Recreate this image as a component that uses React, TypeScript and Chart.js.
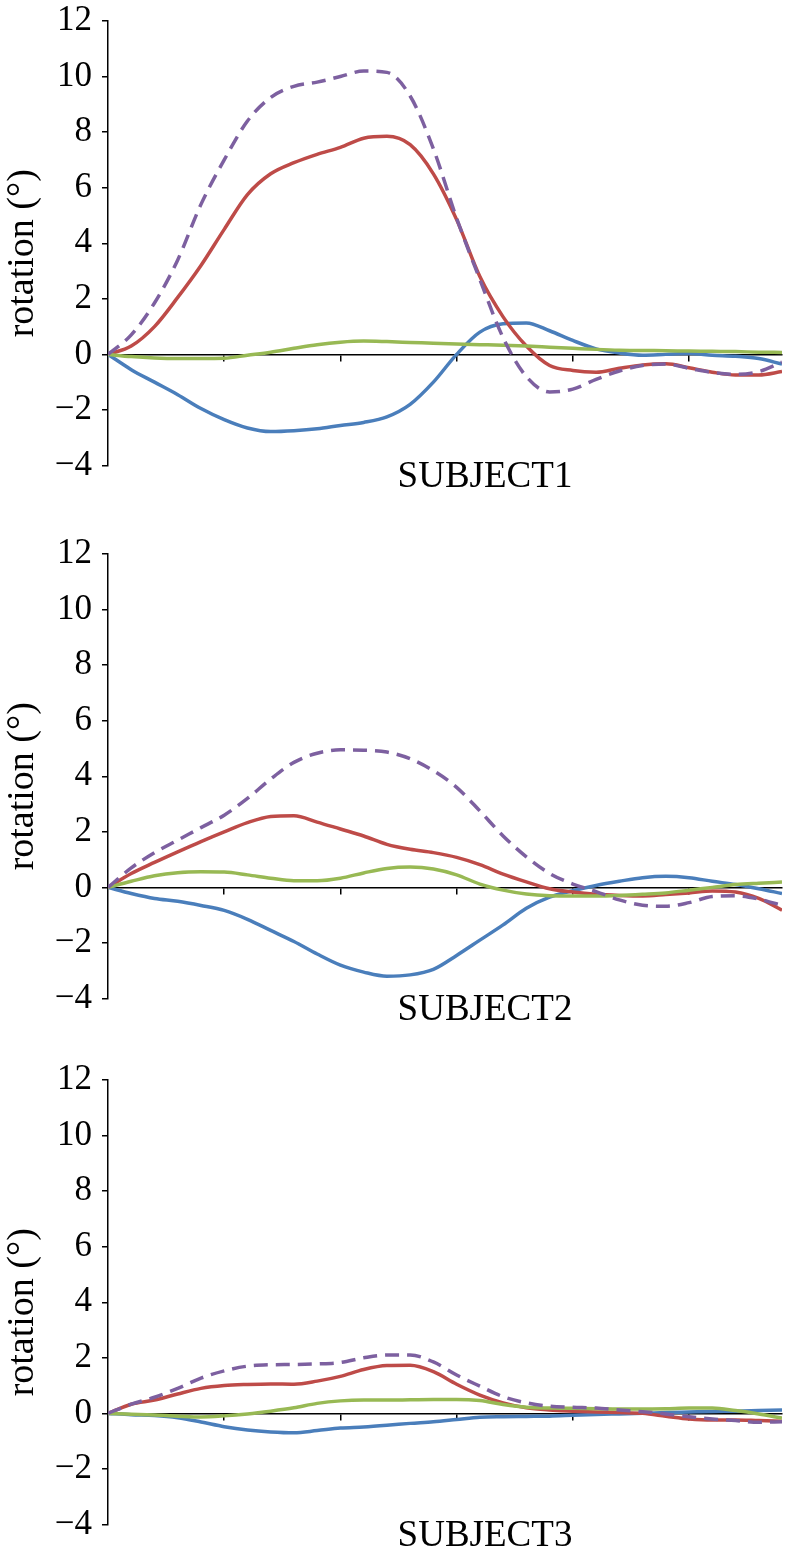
import React, { useEffect, useRef } from "react";
import { Chart, registerables } from "chart.js";

Chart.register(...registerables);

const FONT = "'Liberation Serif', 'Times New Roman', 'DejaVu Serif', serif";

// x positions (time, one unit per x-axis tick)
const xValues = [0, 0.2, 0.4, 0.6, 0.8, 1.0, 1.2, 1.4, 1.6, 1.8, 2.0, 2.2, 2.4, 2.6, 2.8, 3.0, 3.2, 3.4, 3.6, 3.8, 4.0, 4.2, 4.4, 4.6, 4.8, 5.0, 5.2, 5.4, 5.6, 5.8];
const xTickValues = [1, 2, 3, 4, 5];
const yTickValues = [-4, -2, 0, 2, 4, 6, 8, 10, 12];
const subjectLabels = ["SUBJECT1", "SUBJECT2", "SUBJECT3"];
const yTitle = "rotation (°)";

// SUBJECT1
const s1Blue = [0, -0.55, -1.0, -1.45, -1.95, -2.35, -2.65, -2.78, -2.75, -2.68, -2.56, -2.45, -2.25, -1.8, -1.0, 0.0, 0.8, 1.1, 1.13, 0.85, 0.5, 0.2, 0.05, -0.03, 0.0, 0.03, -0.03, -0.07, -0.15, -0.35];
const s1Red = [0, 0.3, 1.0, 2.05, 3.2, 4.5, 5.75, 6.5, 6.9, 7.2, 7.45, 7.78, 7.85, 7.55, 6.5, 4.85, 2.8, 1.35, 0.3, -0.4, -0.58, -0.64, -0.5, -0.38, -0.34, -0.48, -0.64, -0.74, -0.74, -0.62];
const s1Green = [0, -0.08, -0.13, -0.15, -0.15, -0.14, -0.03, 0.08, 0.22, 0.35, 0.44, 0.48, 0.46, 0.43, 0.4, 0.37, 0.35, 0.33, 0.3, 0.26, 0.22, 0.18, 0.15, 0.14, 0.13, 0.12, 0.11, 0.1, 0.08, 0.07];
const s1Purple = [0, 0.7, 1.85, 3.4, 5.4, 7.0, 8.4, 9.25, 9.65, 9.8, 10.0, 10.2, 10.15, 9.3, 7.4, 4.9, 2.7, 0.6, -0.8, -1.35, -1.25, -0.9, -0.6, -0.4, -0.35, -0.5, -0.65, -0.72, -0.62, -0.28];

// SUBJECT2
const s2Blue = [0, -0.22, -0.4, -0.5, -0.65, -0.83, -1.15, -1.55, -1.95, -2.4, -2.8, -3.05, -3.2, -3.15, -2.95, -2.45, -1.9, -1.35, -0.75, -0.35, -0.12, 0.07, 0.22, 0.35, 0.4, 0.35, 0.22, 0.1, -0.05, -0.22];
const s2Red = [0, 0.5, 0.9, 1.28, 1.65, 2.0, 2.33, 2.55, 2.58, 2.35, 2.1, 1.85, 1.55, 1.37, 1.25, 1.08, 0.82, 0.48, 0.2, -0.05, -0.17, -0.25, -0.29, -0.31, -0.26, -0.2, -0.13, -0.17, -0.4, -0.82];
const s2Green = [0, 0.22, 0.42, 0.53, 0.56, 0.55, 0.45, 0.33, 0.24, 0.24, 0.33, 0.52, 0.68, 0.73, 0.66, 0.45, 0.12, -0.1, -0.24, -0.3, -0.31, -0.31, -0.29, -0.25, -0.2, -0.1, 0.0, 0.1, 0.15, 0.19];
const s2Purple = [0, 0.7, 1.25, 1.7, 2.15, 2.6, 3.2, 3.9, 4.5, 4.83, 4.95, 4.94, 4.87, 4.63, 4.2, 3.6, 2.75, 1.85, 1.1, 0.5, 0.12, -0.15, -0.45, -0.64, -0.68, -0.55, -0.33, -0.3, -0.42, -0.65];

// SUBJECT3
const s3Blue = [0, -0.05, -0.08, -0.16, -0.31, -0.48, -0.6, -0.67, -0.7, -0.62, -0.53, -0.49, -0.43, -0.36, -0.3, -0.22, -0.14, -0.12, -0.11, -0.1, -0.07, -0.04, -0.02, 0.0, 0.03, 0.05, 0.07, 0.08, 0.1, 0.12];
const s3Red = [0, 0.33, 0.48, 0.7, 0.9, 1.0, 1.04, 1.06, 1.05, 1.16, 1.33, 1.58, 1.72, 1.73, 1.5, 1.05, 0.66, 0.38, 0.2, 0.12, 0.08, 0.05, 0.03, 0.0, -0.1, -0.2, -0.24, -0.24, -0.26, -0.28];
const s3Green = [0, -0.03, -0.06, -0.1, -0.13, -0.09, -0.02, 0.08, 0.2, 0.36, 0.45, 0.48, 0.48, 0.49, 0.5, 0.5, 0.46, 0.32, 0.22, 0.19, 0.18, 0.17, 0.16, 0.16, 0.17, 0.19, 0.19, 0.1, -0.02, -0.17];
const s3Purple = [0, 0.33, 0.58, 0.9, 1.27, 1.53, 1.7, 1.75, 1.76, 1.78, 1.83, 2.0, 2.1, 2.1, 1.85, 1.38, 0.98, 0.6, 0.38, 0.26, 0.22, 0.19, 0.12, 0.06, -0.02, -0.12, -0.2, -0.26, -0.32, -0.3];

const BLUE = "#4a7ebb";
const RED = "#be4b48";
const GREEN = "#98b954";
const PURPLE = "#7d60a0";

const CANVAS_W = 785;
const CANVAS_H = 535;
const PAD_TOP = 30;
const AREA_H = 444.5;

const panelText = {
  id: "panelText",
  afterDraw(chart: any, _args: any, opts: any) {
    const { ctx, chartArea } = chart;
    ctx.save();
    ctx.fillStyle = "#000";
    ctx.font = `37px ${FONT}`;
    ctx.textAlign = "center";
    ctx.textBaseline = "alphabetic";
    ctx.fillText(opts.subject, 485, chartArea.bottom + 21.5);
    ctx.font = `38px ${FONT}`;
    ctx.translate(33, (chartArea.top + chartArea.bottom) / 2 + 10);
    ctx.rotate(-Math.PI / 2);
    ctx.fillText(opts.yTitle, 0, 0);
    ctx.restore();
  },
};

function toPoints(values: number[]) {
  return values.map((v, i) => ({ x: xValues[i], y: v }));
}

type PanelProps = {
  top: number;
  subject: string;
  blue: number[];
  red: number[];
  green: number[];
  purple: number[];
};

function Panel({ top, subject, blue, red, green, purple }: PanelProps) {
  const ref = useRef<HTMLCanvasElement | null>(null);
  useEffect(() => {
    if (!ref.current) return;
    const line = (label: string, data: number[], color: string, order: number, dash?: number[]) => ({
      label,
      data: toPoints(data),
      borderColor: color,
      backgroundColor: color,
      borderWidth: 3.5,
      borderDash: dash || [],
      pointRadius: 0,
      cubicInterpolationMode: "monotone" as const,
      fill: false,
      order,
    });
    const chart = new Chart(ref.current, {
      type: "line",
      data: {
        datasets: [
          line("blue", blue, BLUE, 4),
          line("red", red, RED, 3),
          line("green", green, GREEN, 2),
          line("purple", purple, PURPLE, 1, [14, 8]),
        ],
      },
      options: {
        responsive: false,
        animation: false,
        layout: {
          padding: { top: PAD_TOP, right: 3, bottom: CANVAS_H - PAD_TOP - AREA_H, left: 0 },
        },
        plugins: {
          legend: { display: false },
          tooltip: { enabled: false },
          panelText: { subject, yTitle },
        } as any,
        scales: {
          x: {
            type: "linear",
            min: xValues[0],
            max: xValues[xValues.length - 1],
            position: { y: 0 } as any,
            border: { display: true, color: "#000", width: 1.5 },
            grid: {
              display: true,
              drawOnChartArea: false,
              drawTicks: true,
              tickLength: 6,
              color: "#000",
              lineWidth: 1.5,
            },
            ticks: { display: false },
            afterBuildTicks: (scale: any) => {
              scale.ticks = xTickValues.map((v) => ({ value: v }));
            },
          },
          y: {
            type: "linear",
            position: "left",
            min: yTickValues[0],
            max: yTickValues[yTickValues.length - 1],
            border: { display: true, color: "#000", width: 1.5 },
            grid: {
              display: true,
              drawOnChartArea: false,
              drawTicks: true,
              tickLength: 6,
              color: "#000",
              lineWidth: 1.5,
            },
            ticks: {
              stepSize: 2,
              padding: 10,
              color: "#000",
              font: { family: FONT, size: 35, lineHeight: 1 },
              callback: (v: any) => (Number(v) < 0 ? "\u2212" + Math.abs(Number(v)) : String(v)),
            },
            afterBuildTicks: (scale: any) => {
              scale.ticks = yTickValues.map((v) => ({ value: v }));
            },
            afterFit: (scale: any) => {
              scale.width = 108;
            },
          },
        },
      },
      plugins: [panelText],
    });
    return () => chart.destroy();
  }, [subject, blue, red, green, purple]);

  return (
    <div style={{ position: "absolute", left: 0, top: top - PAD_TOP, width: CANVAS_W, height: CANVAS_H }}>
      <canvas ref={ref} width={CANVAS_W} height={CANVAS_H} style={{ display: "block" }} />
    </div>
  );
}

export default function App() {
  return (
    <div style={{ position: "absolute", left: 0, top: 0, width: 785, height: 1552, background: "#fff", overflow: "hidden" }}>
      <Panel top={21} subject={subjectLabels[0]} blue={s1Blue} red={s1Red} green={s1Green} purple={s1Purple} />
      <Panel top={554} subject={subjectLabels[1]} blue={s2Blue} red={s2Red} green={s2Green} purple={s2Purple} />
      <Panel top={1080} subject={subjectLabels[2]} blue={s3Blue} red={s3Red} green={s3Green} purple={s3Purple} />
    </div>
  );
}
